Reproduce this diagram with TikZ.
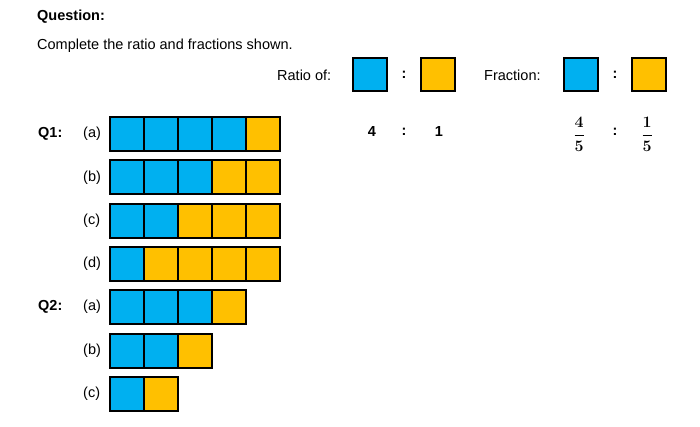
\documentclass[tikz,border=0pt]{standalone}
\usepackage[no-math]{fontspec}
\usepackage{fix-cm}
\setmainfont{Liberation Sans}
\definecolor{partblue}{HTML}{00B0F0}
\definecolor{partorange}{HTML}{FFC000}
\tikzset{
  cell/.style={draw=black, line width=2pt},
  keybox/.style={cell, minimum width=34pt, minimum height=33pt, inner sep=0pt},
  lbl/.style={anchor=west, inner sep=0pt, font=\fontsize{14.5}{17}\selectfont},
  ans/.style={inner sep=0pt, font=\bfseries\fontsize{14.5}{17}\selectfont},
  fracans/.style={inner sep=0pt, font=\fontsize{16}{19}\selectfont\boldmath},
}
\begin{document}
\begin{tikzpicture}[x=1pt,y=-1pt]
\useasboundingbox (0,0) rectangle (700,427);
\node[lbl, font=\bfseries\fontsize{14.5}{17}\selectfont] (title) at (37,17) {Question:};
\node[lbl] (task) at (37,46) {Complete the ratio and fractions shown.};

% key
\node[lbl] (ratiotxt) at (277,75) {Ratio of:};
\node[keybox, fill=partblue] (ratioa) at (369.5,74.5) {};
\node[ans] (ratiocol) at (404,75) {:};
\node[keybox, fill=partorange] (ratiob) at (437.5,74.5) {};
\node[lbl] (fractxt) at (484,75) {Fraction:};
\node[keybox, fill=partblue] (fraca) at (580.5,74.5) {};
\node[ans] (fraccol) at (615,75) {:};
\node[keybox, fill=partorange] (fracb) at (649,74.5) {};

% bars: row / blue cells / all cells
\foreach \r/\b/\n in {0/4/5, 1/3/5, 2/2/5, 3/1/5, 4/3/4, 5/2/3, 6/1/2} {
  \pgfmathsetmacro\y{117+43.3*\r}
  \foreach \i in {1,...,\n} {
    \pgfmathsetmacro\x{110+34*(\i-1)}
    \ifnum\i>\b \def\c{partorange}\else \def\c{partblue}\fi
    \filldraw[cell, fill=\c] (\x,\y) rectangle ++(34,34);
  }
}
\foreach \r/\t in {0/(a), 1/(b), 2/(c), 3/(d), 4/(a), 5/(b), 6/(c)}
  \node[lbl] (part\r) at (83,134+43.3*\r) {\t};
\node[lbl, font=\bfseries\fontsize{14.5}{17}\selectfont] (qone) at (38,134) {Q1:};
\node[lbl, font=\bfseries\fontsize{14.5}{17}\selectfont] (qtwo) at (38,307) {Q2:};

% worked answer
\node[ans] (ansa) at (372,132) {4};
\node[ans] (anscol) at (404,132) {:};
\node[ans] (ansb) at (439,132) {1};
\node[fracans] (fraa) at (579,134.5) {$\displaystyle\frac{\mathbf{4}}{\mathbf{5}}$};
\node[ans] (fracol) at (615,132) {:};
\node[fracans] (frab) at (647,134.5) {$\displaystyle\frac{\mathbf{1}}{\mathbf{5}}$};
\end{tikzpicture}
\end{document}
